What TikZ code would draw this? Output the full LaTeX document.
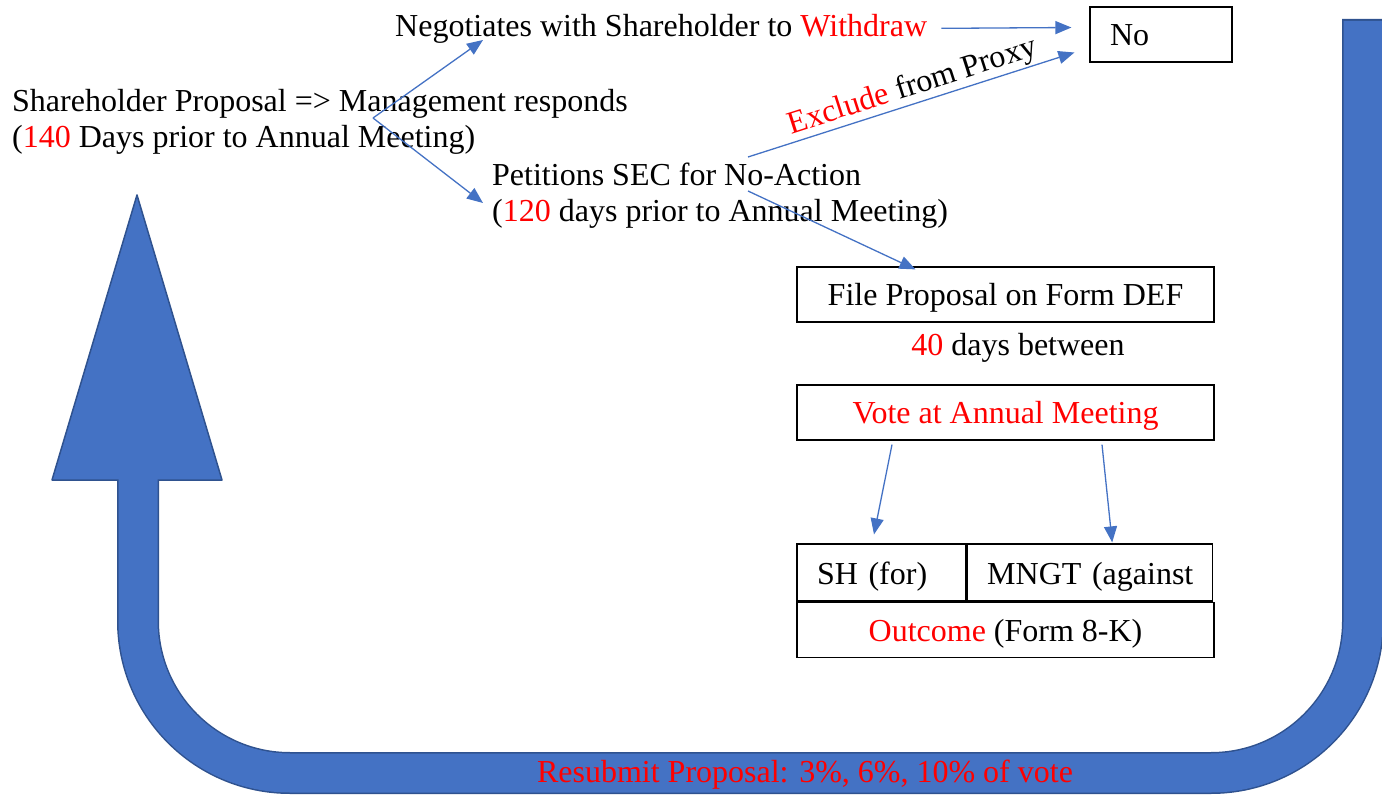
\documentclass[tikz,border=0pt]{standalone}
\usepackage{fontspec}
\setmainfont{Liberation Serif}
\usetikzlibrary{
  arrows.meta,
  calc,
  positioning
}
\definecolor{flowblue}{HTML}{4472C4}
\definecolor{flowedge}{HTML}{2F528F}
\newcommand{\redtxt}[1]{\textcolor{red}{#1}}
\tikzset{
  >={Triangle[length=16pt,width=13pt]},
  flow/.style = {->, draw=flowblue, line width=1.3pt},
  txt/.style = {inner sep=0pt, anchor=base west, align=left},
  box/.style = {draw, line width=1.2pt, minimum height=55pt,
    text height=25pt, text depth=2pt, inner ysep=0pt},
}

\begin{document}
\begin{tikzpicture}[x=1pt, y=-1pt, font=\fontsize{32}{36}\selectfont]
  \useasboundingbox (0,0) rectangle (1382,799);

  % resubmit loop
  \draw[flowedge, line width=42pt, rounded corners=152pt]
    (1363,19) -- (1363,773) -- (138,773) -- (138,481);
  \filldraw[fill=flowblue, draw=flowedge, line width=1.5pt, line join=round]
    (52,480) -- (137,195) -- (222,480) -- cycle;
  \draw[flowblue, line width=39pt, rounded corners=152pt]
    (1363,21) -- (1363,773) -- (138,773) -- (138,478);
  \node[anchor=base, inner sep=0pt, text=red] (resub) at (805,782)
    {Resubmit Proposal: 3\%, 6\%, 10\% of vote};

  % texts (base = last line)
  \node[txt] (prop) at (12,148)
    {Shareholder Proposal => Management responds\\(\redtxt{140} Days prior to Annual Meeting)};
  \node[txt] (nego) at (395,37) {Negotiates with Shareholder to \redtxt{Withdraw}};
  \node[txt] (peti) at (492,222)
    {Petitions SEC for No-Action\\(\redtxt{120} days prior to Annual Meeting)};

  % boxes
  \node[box, text width=102pt, inner xsep=20pt, align=left] (no) at (1161,34.5) {No};
  \node[box, minimum width=417pt] (file) at (1005.5,294.5) {File Proposal on Form DEF};
  \node[anchor=base, inner sep=0pt] (gap) at (1018,356) {\redtxt{40} days between};
  \node[box, minimum width=417pt] (vote) at (1005.5,412.5) {\redtxt{Vote at Annual Meeting}};
  \node[box, text width=129pt, inner xsep=20pt, minimum height=57pt, align=left]
    (sh) at (881.5,572.5) {SH (for)};
  \node[box, text width=205pt, inner xsep=20pt, minimum height=57pt, align=left,
    right=0pt of sh] (mngt) {\mbox{MNGT (against}};
  \node[box, minimum width=417pt, anchor=north west] (outc) at (sh.south west)
    {\redtxt{Outcome} (Form 8-K)};

  % connectors
  \coordinate (fork) at (373,118);
  \coordinate (excl) at (748,157);
  \coordinate (down) at (748,191);
  \draw[flow] (fork) -- ($(nego.base west)+(88,3)$);
  \draw[flow] (fork) -- ($(peti.base west)+(-9,-19)$);
  \draw[flow] ($(nego.east)+(14,-1)$) -- ($(no.west)+(-18,-7)$);
  \draw[flow] (excl) -- node[sloped, above, pos=0.52, inner sep=1pt]
    {\redtxt{Exclude} from Proxy} ($(no.west)+(-15,18)$);
  \draw[flow] (down) -- ($(file.north)+(-90,3)$);
  \draw[flow] ($(vote.south)+(-113.5,4)$) -- ($(sh.north)+(-7.5,-9)$);
  \draw[flow] ($(vote.south)+(96.5,4)$) -- ($(mngt.north)+(22.5,-1)$);
\end{tikzpicture}
\end{document}
